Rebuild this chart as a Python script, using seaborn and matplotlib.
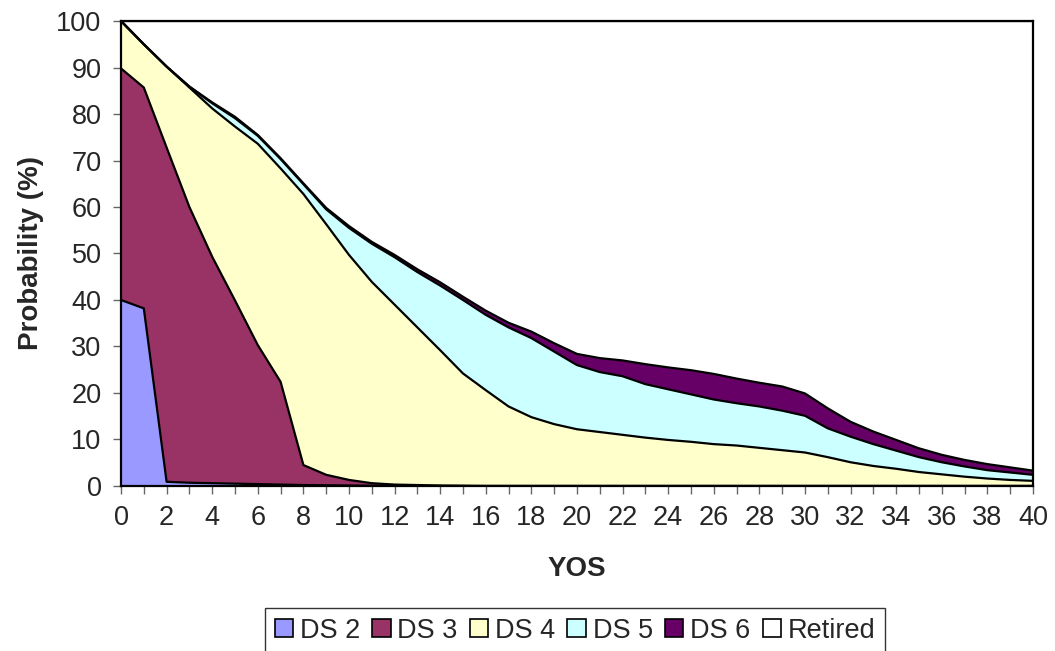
import numpy as np
import pandas as pd
import matplotlib
matplotlib.use("Agg")
import matplotlib.pyplot as plt
import seaborn as sns
from matplotlib.patches import Patch

yos = list(range(0, 41))
ds2 = [40.0, 38.2, 0.9, 0.7, 0.6, 0.5, 0.4, 0.3, 0.2, 0.15, 0.1, 0.05] + [0.0] * 29
ds3 = [49.8, 47.5, 71.9, 59.3, 48.7, 39.4, 29.9, 22.1, 4.3, 2.25, 1.2, 0.55, 0.3, 0.2, 0.1, 0.05] + [0.0] * 25
ds4 = [10.2, 9.3, 17.4, 25.7, 31.9, 37.4, 43.3, 45.9, 58.3, 53.9, 48.4, 43.3, 38.7, 33.9, 29.1, 24.15,
       20.6, 17.1, 14.8, 13.3, 12.2, 11.6, 11.0, 10.4, 9.9, 9.5, 9.0, 8.7, 8.2, 7.7, 7.2,
       6.2, 5.1, 4.3, 3.7, 3.0, 2.5, 2.0, 1.6, 1.3, 1.1]
ds5 = [0.0, 0.0, 0.0, 0.2, 1.1, 1.8, 1.7, 2.0, 2.1, 3.2, 5.8, 8.2, 10.2, 11.9, 13.9, 15.8,
       16.2, 17.0, 17.0, 15.6, 13.8, 12.9, 12.6, 11.5, 10.9, 10.2, 9.6, 9.1, 8.9, 8.5, 7.9,
       6.2, 5.5, 4.7, 3.9, 3.2, 2.6, 2.2, 1.8, 1.6, 1.3]
ds6 = [0.0, 0.0, 0.0, 0.0, 0.2, 0.3, 0.2, 0.2, 0.2, 0.3, 0.4, 0.4, 0.5, 0.6, 0.7, 0.7,
       0.9, 1.0, 1.4, 1.8, 2.4, 3.0, 3.4, 4.3, 4.7, 5.2, 5.5, 5.3, 5.1, 5.2, 4.8,
       4.3, 3.2, 2.7, 2.3, 1.9, 1.6, 1.4, 1.3, 1.1, 0.9]
retired = [0.0, 5.0, 9.8, 14.1, 17.5, 20.6, 24.5, 29.5, 34.9, 40.2, 44.1, 47.5, 50.3, 53.4, 56.2, 59.3,
           62.3, 64.9, 66.8, 69.3, 71.6, 72.5, 73.0, 73.8, 74.5, 75.1, 75.9, 76.9, 77.8, 78.6, 80.1,
           83.3, 86.2, 88.3, 90.1, 91.9, 93.3, 94.4, 95.3, 96.0, 96.7]

series_names = ["DS 2", "DS 3", "DS 4", "DS 5", "DS 6", "Retired"]
colors = ["#9999FF", "#993366", "#FFFFCC", "#CCFFFF", "#660066", "#FFFFFF"]
xtick_labels = [str(v) if v % 2 == 0 else "" for v in yos]

df = pd.DataFrame({"YOS": yos, "DS 2": ds2, "DS 3": ds3, "DS 4": ds4,
                   "DS 5": ds5, "DS 6": ds6, "Retired": retired})

sns.set_style("white")
plt.rcParams['font.family'] = ['Liberation Sans', 'DejaVu Sans']

fig = plt.figure(figsize=(10.55, 6.51), dpi=100)
ax = fig.add_axes([0.1147, 0.2535, 0.9791 - 0.1147, 0.9677 - 0.2535])

cum = df[series_names].cumsum(axis=1)
lower = np.zeros(len(df))
for name, col in zip(series_names, colors):
    upper = cum[name].values
    ax.fill_between(df["YOS"], lower, upper, facecolor=col, edgecolor="none", zorder=1)
    lower = upper

for name in series_names:
    sns.lineplot(x=df["YOS"], y=cum[name], ax=ax, color="black", linewidth=1.6,
                 zorder=3, legend=False)

ax.set_xlim(0, 40)
ax.set_ylim(0, 100)
ax.set_xticks(yos)
ax.set_xticklabels(xtick_labels)
ax.set_yticks(range(0, 101, 10))
ax.tick_params(axis="both", which="major", direction="out", length=6, width=1,
               color="#666666", labelsize=19.5, bottom=True, left=True)
ax.tick_params(axis="x", pad=8)
ax.tick_params(axis="y", pad=8)
for s in ax.spines.values():
    s.set_color("black")
    s.set_linewidth(1.6)
    s.set_zorder(4)
ax.set_xlabel("YOS", fontsize=20, fontweight="bold", labelpad=18)
ax.set_ylabel("Probability (%)", fontsize=20, fontweight="bold", labelpad=9)
ax.grid(False)

handles = [Patch(facecolor=c, edgecolor="black", linewidth=1.2) for c in colors]
leg = fig.legend(handles, series_names, loc="upper center", bbox_to_anchor=(0.545, 0.066),
                 ncol=6, frameon=True, fontsize=19.5, handlelength=0.68, handleheight=0.68,
                 handletextpad=0.25, columnspacing=0.45, borderpad=0.35, borderaxespad=0.0,
                 fancybox=False)
leg.get_frame().set_edgecolor("black")
leg.get_frame().set_linewidth(1.0)

fig.savefig("out.png", dpi=100)
